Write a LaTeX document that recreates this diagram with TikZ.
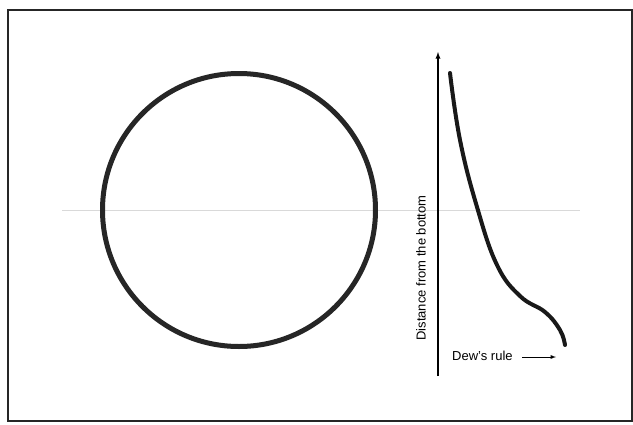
\documentclass[tikz,border=0pt]{standalone}
\usepackage{fontspec}
\setmainfont{Liberation Sans}
\begin{document}
\begin{tikzpicture}[x=1pt,y=-1pt,
  frame/.style={draw=black!85,line width=1.8pt},
  ring/.style={draw=black!85,line width=5pt},
  guide/.style={draw=black!15,line width=0.8pt},
  axis/.style={draw=black,line width=1.3pt},
  profile/.style={draw=black!90,line width=4pt,line cap=round},
  lbl/.style={font=\fontsize{13}{15}\selectfont,inner sep=0pt}]
\useasboundingbox (0,0) rectangle (633,424);
\fill[white] (0,0) rectangle (633,424);
\draw[frame] (8,10) rectangle (632,421);
\coordinate (gl) at (62,210);
\coordinate (gr) at (580,210);
\draw[guide] (gl) -- (gr);
\node[ring,circle,minimum size=273pt,inner sep=0pt] (pipe) at (239,210) {};
\coordinate (ab) at (438,376);
\coordinate (at) at (438,52);
\draw[axis,-latex] (ab) -- (at);
\draw[profile] plot[smooth,tension=0.7] coordinates {(450,73) (460,140) (477,207) (497,265) (520,296) (545,312) (560,330) (565,345)};
\node[lbl,rotate=90] (ylab) at (421,268) {Distance from the bottom};
\node[lbl,anchor=west] (xlab) at (452,356) {Dew's rule};
\coordinate (xa) at (522,357);
\coordinate (xb) at (556,357);
\draw[line width=0.9pt,-latex] (xa) -- (xb);
\end{tikzpicture}
\end{document}
